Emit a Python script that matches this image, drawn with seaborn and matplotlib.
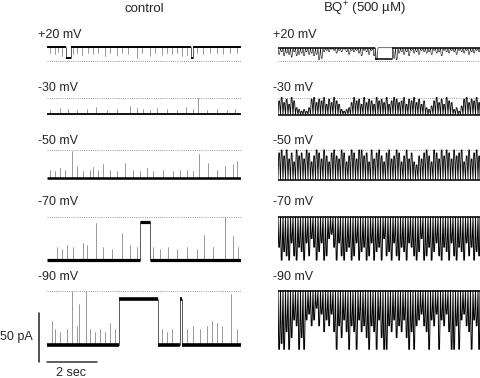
import numpy as np
import pandas as pd
import seaborn as sns
import matplotlib.pyplot as plt

sns.set_style("white")
plt.rcParams["font.family"] = ["Liberation Sans", "DejaVu Sans"]
plt.rcParams["mathtext.fontset"] = "custom"
plt.rcParams["mathtext.rm"] = "Liberation Sans"

# --- data (pA, seconds) ---
VOLTAGES = ["+20 mV", "-30 mV", "-50 mV", "-70 mV", "-90 mV"]
CTRL_AMP = [14, -17, -29, -44, -56]      # open-channel current, control
BQ_AMP = [13.5, -17.5, -30.5, -44, -60]  # open-channel current, BQ+
CTRL_DURATION = 7.76
BQ_DURATION = 8.08
BQ_DT = 0.1

# long closures in control: (start, end, fraction of amplitude closed)
P20_CTRL_CLOSURES = [(0.76, 0.95, 0.8), (5.75, 5.85, 0.8)]
M70_CTRL_CLOSURES = [(3.72, 4.12, 0.88)]
M90_CTRL_CLOSURES = [(2.89, 4.45, 0.84), (5.32, 5.38, 0.85)]

# brief closures in control: times and fraction of amplitude closed
P20_SPIKE_T = [0.12, 0.32, 0.45, 0.59, 1.05, 1.19, 1.39, 1.65, 1.85, 2.05, 2.32, 2.52, 2.79, 2.99, 3.25, 3.59,
               3.79, 4.12, 4.32, 4.59, 4.79, 4.99, 5.19, 5.39, 5.59, 5.99, 6.25, 6.52, 6.79, 7.05, 7.32, 7.59]
P20_SPIKE_D = [0.4, 0.5, 0.35, 0.6, 0.5, 0.4, 0.55, 0.45, 0.5, 0.4, 0.6, 0.45, 0.55, 0.4, 0.5, 0.75,
               0.45, 0.6, 0.4, 0.55, 0.45, 0.5, 0.4, 0.6, 0.55, 0.4, 0.5, 0.45, 0.4, 0.5, 0.45, 0.4]
M30_SPIKE_T = [0.12, 0.52, 0.85, 1.19, 1.59, 1.96, 2.39, 2.79, 3.32, 3.59, 3.85, 4.12, 4.39, 4.79, 5.19, 5.56,
               5.85, 6.05, 6.39, 6.79, 7.19, 7.52]
M30_SPIKE_D = [0.25, 0.35, 0.3, 0.25, 0.3, 0.4, 0.25, 0.3, 0.5, 0.35, 0.3, 0.25, 0.35, 0.3, 0.25, 0.4,
               0.3, 1.0, 0.25, 0.3, 0.25, 0.3]
M50_SPIKE_T = [0.12, 0.32, 0.52, 0.72, 1.01, 1.19, 1.45, 1.72, 1.85, 2.05, 2.25, 2.52, 2.79, 3.12, 3.45, 3.72,
               3.99, 4.25, 4.65, 5.05, 5.32, 5.59, 5.85, 6.09, 6.45, 6.79, 7.12, 7.45, 7.59]
M50_SPIKE_D = [0.3, 0.25, 0.35, 0.3, 0.95, 0.45, 0.25, 0.3, 0.4, 0.3, 0.5, 0.3, 0.25, 0.55, 0.3, 0.25,
               0.35, 0.25, 0.3, 0.25, 0.3, 0.3, 0.25, 0.85, 0.55, 0.3, 0.45, 0.5, 0.6]
M70_SPIKE_T = [0.39, 0.59, 0.79, 1.05, 1.45, 1.59, 1.96, 2.25, 2.59, 2.99, 3.32, 3.59, 4.25, 4.52, 4.85, 5.19,
               5.59, 5.99, 6.28, 6.65, 7.12, 7.45, 7.65]
M70_SPIKE_D = [0.3, 0.25, 0.35, 0.3, 0.4, 0.35, 0.86, 0.3, 0.25, 0.63, 0.35, 0.3, 0.3, 0.25, 0.3, 0.25,
               0.3, 0.25, 0.58, 0.3, 1.0, 0.55, 0.3]
M90_SPIKE_T = [0.19, 0.32, 0.52, 0.79, 0.99, 1.19, 1.29, 1.55, 1.72, 1.92, 2.12, 2.32, 2.52, 2.72, 4.59, 4.79,
               4.99, 5.59, 5.85, 6.12, 6.39, 6.59, 6.79, 6.99, 7.36, 7.59]
M90_SPIKE_D = [0.45, 0.3, 0.25, 0.3, 1.0, 0.35, 0.75, 1.0, 0.3, 0.25, 0.3, 0.25, 0.4, 0.3, 0.3, 0.25,
               0.3, 0.3, 0.35, 0.3, 0.35, 0.45, 0.4, 0.35, 0.93, 0.3]

# BQ+ flicker: depth of each excursion, one every 0.1 s
P20_BQ = [0.5, 0.3, 0.6, 0.4, 0.5, 0.7, 0.3, 0.6, 0.5, 0.4,
          0.6, 0.3, 0.5, 0.4, 0.6, 0.5, 0.9, 0.8, 0.3, 0.2,
          0.3, 0.1, 0.2, 0.4, 0.2, 0.3, 0.1, 0.3, 0.5, 0.2,
          0.3, 0.2, 0.4, 0.6, 0.2, 0.3, 0.5, 0.2, 0.6, 0.9,
          0, 0, 0, 0, 0, 0, 0.8, 0.9, 0.4, 0.3,
          0.5, 0.3, 0.6, 0.2, 0.4, 0.3, 0.5, 0.2, 0.3, 0.4,
          0.3, 0.5, 0.2, 0.4, 0.3, 0.6, 0.2, 0.3, 0.4, 0.2,
          0.3, 0.5, 0.2, 0.3, 0.4, 0.2, 0.5, 0.3, 0.4, 0.2, 0.3]
P20_BQ_CLOSURES = [(3.88, 4.56, 0.85)]
M30_BQ = [0.8, 1.0, 0.7, 0.9, 0.6, 1.0, 0.8, 0.4, 0.3, 0.2,
          0.3, 0.2, 0.4, 0.9, 1.0, 0.7, 0.9, 0.8, 1.0, 0.6,
          0.9, 0.7, 1.0, 0.8, 0.6, 0.3, 0.2, 0.3, 0.4, 0.7,
          1.0, 0.8, 0.9, 0.6, 1.0, 0.7, 0.9, 0.8, 0.6, 1.0,
          0.8, 0.9, 0.7, 1.0, 0.6, 0.8, 1.0, 0.9, 0.7, 0.8,
          1.0, 0.6, 0.9, 0.8, 1.0, 0.7, 0.9, 0.6, 0.8, 0.4,
          0.3, 0.5, 0.8, 1.0, 0.7, 0.9, 0.6, 1.0, 0.8, 0.7,
          0.3, 0.4, 0.2, 0.5, 0.9, 1.0, 0.7, 0.9, 0.8, 1.0, 0.7]
M50_BQ = [0.9, 1.0, 0.8, 1.0, 0.7, 0.9, 0.6, 1.0, 0.8, 0.9,
          0.7, 1.0, 0.9, 0.6, 0.8, 1.0, 0.9, 0.7, 1.0, 0.8,
          0.6, 0.9, 1.0, 0.8, 0.7, 1.0, 0.9, 0.6, 0.8, 1.0,
          0.9, 0.7, 1.0, 1.0, 0.8, 0.9, 0.6, 1.0, 0.7, 0.9,
          1.0, 0.8, 0.6, 0.9, 1.0, 0.7, 0.8, 1.0, 0.9, 0.6,
          0.8, 1.0, 0.7, 0.9, 0.6, 0.5, 0.8, 0.7, 0.9, 1.0,
          0.8, 0.6, 1.0, 0.9, 0.7, 1.0, 0.8, 1.0, 0.9, 0.7,
          1.0, 0.8, 0.9, 1.0, 0.6, 0.8, 1.0, 0.7, 0.9, 1.0, 0.8]
M70_BQ = [0.7, 1.0, 0.8, 0.9, 1.0, 0.6, 0.9, 1.0, 0.7, 0.8,
          1.0, 0.6, 0.9, 0.5, 0.7, 1.0, 0.8, 0.6, 1.0, 0.9,
          0.5, 0.4, 0.7, 1.0, 0.6, 0.9, 1.0, 0.8, 0.7, 1.0,
          0.9, 0.6, 1.0, 0.8, 0.7, 1.0, 0.9, 0.6, 1.0, 0.8,
          0.7, 1.0, 0.5, 0.9, 0.8, 1.0, 0.6, 0.9, 1.0, 0.7,
          0.8, 1.0, 0.6, 0.7, 0.9, 1.0, 0.8, 0.5, 1.0, 0.9,
          0.7, 1.0, 0.8, 0.6, 0.9, 1.0, 0.7, 0.8, 1.0, 0.6,
          0.9, 1.0, 0.7, 0.8, 1.0, 0.6, 0.9, 0.7, 1.0, 0.8, 0.9]
M90_BQ = [1.0, 0.9, 1.0, 0.7, 1.0, 0.8, 0.5, 0.6, 1.0, 0.8,
          1.0, 0.5, 0.4, 0.6, 0.5, 0.3, 0.6, 0.4, 0.7, 0.5,
          0.6, 0.4, 0.7, 1.0, 0.6, 0.8, 0.5, 0.7, 1.0, 0.6,
          0.7, 1.0, 0.5, 0.7, 0.6, 0.8, 1.0, 0.6, 0.7, 1.0,
          0.5, 0.8, 1.0, 1.0, 0.6, 0.7, 0.5, 0.8, 0.6, 0.7,
          0.5, 0.8, 1.0, 0.7, 1.0, 0.6, 0.5, 0.4, 0.6, 0.7,
          1.0, 0.5, 0.6, 0.4, 1.0, 0.5, 0.6, 0.4, 0.7, 1.0,
          1.0, 0.6, 1.0, 0.5, 0.4, 0.6, 0.7, 1.0, 0.5, 0.6, 1.0]

# --- layout (pixels in a 480x378 canvas) ---
PX_PER_S = 25.0
PX_PER_PA = 0.98
LEFT_X0, RIGHT_X0 = 47, 278
ROW_ZERO_Y = [61, 97.5, 150, 217, 290.5]
LEFT_LABEL_X, RIGHT_LABEL_X = 37.5, 273
LABEL_Y = [35, 88, 141, 202, 277]
Y_LIMS = (-80, 20)
CTRL_LW = [1.4, 1.3, 1.8, 2.3, 2.6]
BQ_LW = [0.4, 0.6, 0.6, 0.7, 0.7]
W, H = 480, 378


def level_frames(amp, closures, duration):
    """Split a trace with long closures into thick dwell segments and thin transitions."""
    edges = [0.0]
    levels = [amp]
    for t0, t1, f in closures:
        edges += [t0, t1]
        levels += [amp * (1 - f), amp]
    edges.append(duration)
    dwell = []
    for k, lvl in enumerate(levels):
        dwell += [(k, edges[k], lvl), (k, edges[k + 1], lvl)]
    trans = []
    for k in range(1, len(levels)):
        trans += [(k, edges[k], levels[k - 1]), (k, edges[k], levels[k])]
    return (pd.DataFrame(dwell, columns=["seg", "t", "pA"]),
            pd.DataFrame(trans, columns=["seg", "t", "pA"]))


def spike_frame(amp, times, depths):
    rows = []
    for k, (t, d) in enumerate(zip(times, depths)):
        rows.append((k, t, amp))
        rows.append((k, t, amp * (1 - d)))
    return pd.DataFrame(rows, columns=["seg", "t", "pA"])


def flicker_frame(amp, depths, from_open, duration):
    rest = amp if from_open else 0.0
    t, cur = [], []
    for k, d in enumerate(depths):
        lvl = amp * (1 - d) if from_open else amp * d
        t0 = k * BQ_DT
        t += [t0, t0 + 0.03, t0 + 0.06]
        cur += [rest, lvl, lvl]
    t.append(duration)
    cur.append(rest)
    return pd.DataFrame({"t": t, "pA": cur})


def make_ax(fig, x0, zero_y, duration):
    h = (Y_LIMS[1] - Y_LIMS[0]) * PX_PER_PA
    bottom = zero_y - Y_LIMS[0] * PX_PER_PA
    ax = fig.add_axes([x0 / W, 1 - bottom / H, duration * PX_PER_S / W, h / H])
    ax.set_xlim(0, duration)
    ax.set_ylim(*Y_LIMS)
    ax.patch.set_visible(False)
    ax.axhline(0, color="#777777", lw=0.6, ls=(0, (1, 1.6)))
    return ax


def draw_levels(ax, amp, closures, duration, lw):
    dwell, trans = level_frames(amp, closures, duration)
    if len(trans):
        sns.lineplot(data=trans, x="t", y="pA", units="seg", estimator=None, sort=False,
                     color="#404040", lw=0.6, ax=ax)
    sns.lineplot(data=dwell, x="t", y="pA", units="seg", estimator=None, sort=False,
                 color="black", lw=lw, solid_capstyle="butt", ax=ax)


fig = plt.figure(figsize=(W / 100, H / 100), dpi=100)

ctrl_closures = [P20_CTRL_CLOSURES, [], [], M70_CTRL_CLOSURES, M90_CTRL_CLOSURES]
ctrl_spike_t = [P20_SPIKE_T, M30_SPIKE_T, M50_SPIKE_T, M70_SPIKE_T, M90_SPIKE_T]
ctrl_spike_d = [P20_SPIKE_D, M30_SPIKE_D, M50_SPIKE_D, M70_SPIKE_D, M90_SPIKE_D]
bq_depths = [P20_BQ, M30_BQ, M50_BQ, M70_BQ, M90_BQ]
bq_from_open = [True, True, True, False, False]
bq_closures = [P20_BQ_CLOSURES, [], [], [], []]

for r in range(5):
    # control
    ax = make_ax(fig, LEFT_X0, ROW_ZERO_Y[r], CTRL_DURATION)
    sns.lineplot(data=spike_frame(CTRL_AMP[r], ctrl_spike_t[r], ctrl_spike_d[r]), x="t", y="pA",
                 units="seg", estimator=None, sort=False, color="#707070", lw=0.5, ax=ax)
    draw_levels(ax, CTRL_AMP[r], ctrl_closures[r], CTRL_DURATION, CTRL_LW[r])
    ax.axis("off")
    fig.text(LEFT_LABEL_X / W, 1 - LABEL_Y[r] / H, VOLTAGES[r], ha="left", va="center", fontsize=9)

    # BQ+
    ax2 = make_ax(fig, RIGHT_X0, ROW_ZERO_Y[r], BQ_DURATION)
    sns.lineplot(data=flicker_frame(BQ_AMP[r], bq_depths[r], bq_from_open[r], BQ_DURATION), x="t", y="pA",
                 estimator=None, sort=False, color="black", lw=BQ_LW[r], ax=ax2)
    if bq_from_open[r]:
        draw_levels(ax2, BQ_AMP[r], bq_closures[r], BQ_DURATION, 1.1)
    else:
        draw_levels(ax2, 0.0, [], BQ_DURATION, 1.1)
    ax2.axis("off")
    fig.text(RIGHT_LABEL_X / W, 1 - LABEL_Y[r] / H, VOLTAGES[r], ha="left", va="center", fontsize=9)

    if r == 4:
        # scale bars: 50 pA, 2 sec
        ax.plot([-0.32, -0.32], [-23, -73], color="#222222", lw=1.1, clip_on=False)
        ax.plot([0, 2], [-73, -73], color="#333333", lw=1.1, clip_on=False)

fig.text(0.5 / W, 1 - 337 / H, "50 pA", ha="left", va="center", fontsize=9)
fig.text(71.5 / W, 1 - 376.5 / H, "2 sec", ha="center", va="baseline", fontsize=9)
fig.text(144 / W, 1 - 12 / H, "control", ha="center", va="baseline", fontsize=9.5)
fig.text(365 / W, 1 - 12 / H, "BQ$^{+}$ (500 µM)", ha="center", va="baseline", fontsize=9.5)

fig.savefig("out.png", dpi=100)
